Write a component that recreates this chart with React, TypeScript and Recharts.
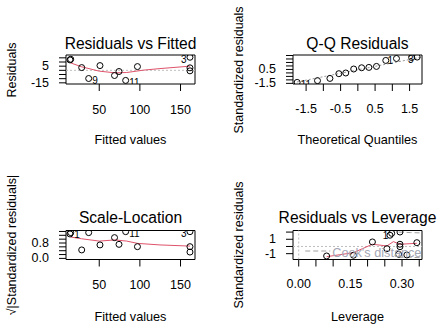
import React from 'react'
import {
  ScatterChart,
  Scatter,
  XAxis,
  YAxis,
  ReferenceLine,
  ReferenceArea,
} from 'recharts'

const FONT = '"Liberation Sans", Arial, Helvetica, sans-serif'
const RED = '#DF536B'

// Residuals vs Fitted
const fitted = [14.9, 14.0, 28.4, 37.0, 50.9, 68.8, 74.3, 82.5, 97.0, 161.6, 161.6, 161.6]
const residuals = [13.3, 12.5, 3.3, -9.8, 5.7, -6.2, -1.4, -12.1, 4.5, 15.7, 3.0, -0.6]
const rvfIds = ['', '', '', '9', '', '', '', '11', '', '3', '', '']
const rvfSmoothX = [14.9, 28.4, 50.1, 69.4, 83.8, 104.2, 124.7, 161.6]
const rvfSmoothY = [8.9, 4.2, -1.0, -3.0, -2.6, 0.2, 2.1, 5.0]
const fittedTicks = [50, 100, 150]
const rvfYTicks = [-15, -10, -5, 0, 5, 10, 15]
const rvfYShown = [-15, 5]

// Q-Q Residuals
const qqTheo = [-1.76, -1.17, -0.81, -0.55, -0.35, -0.12, 0.11, 0.32, 0.54, 0.81, 1.12, 1.56, 1.72]
const qqStd = [-1.36, -1.11, -0.79, -0.11, -0.01, 0.56, 0.74, 0.79, 0.93, 1.79, 2.07, 2.21, 2.27]
const qqIds = ['11', '', '', '', '', '', '', '', '', '', '1', '', '3']
const qqLineX = [-1.88, 1.86]
const qqLineY = [-1.41, 2.28]
const qqXTicks = [-1.5, -1, -0.5, 0, 0.5, 1, 1.5]
const qqXShown = [-1.5, -0.5, 0.5, 1.5]
const qqYTicks = [-1.5, -1, -0.5, 0, 0.5, 1, 1.5, 2, 2.5]
const qqYShown = [-1.5, 0.5]

// Scale-Location
const slValue = [1.34, 1.27, 0.44, 1.34, 0.7, 1.08, 0.73, 1.39, 0.61, 1.39, 0.61, 0.33]
const slIds = ['1', '', '', '', '', '', '', '11', '', '3', '', '']
const slSmoothX = [14.9, 28.4, 50.0, 69.4, 83.8, 97.3, 124.7, 161.6]
const slSmoothY = [1.11, 1.02, 0.9, 0.96, 0.9, 0.78, 0.7, 0.64]
const slYTicks = [0, 0.2, 0.4, 0.6, 0.8, 1.0, 1.2, 1.4]
const slYShown = [0, 0.8]

// Residuals vs Leverage
const leverage = [0.081, 0.159, 0.214, 0.256, 0.265, 0.27, 0.294, 0.294, 0.294, 0.29, 0.314, 0.343]
const levStd = [-1.32, -1.22, 0.63, -0.31, 1.56, 1.83, 2.01, 0.31, -0.03, -1.08, -1.18, 0.53]
const levIds = ['', '', '', '', '', '1', '', '', '', '', '', '']
const levSmoothX = [0.081, 0.159, 0.214, 0.256, 0.275, 0.294, 0.343]
const levSmoothY = [-1.42, -0.86, 0.31, 0.07, 0.67, 0.31, 0.44]
const cookH = [0.29, 0.325, 0.358]
const cookUpper = [2.0, 1.93, 1.88]
const cookLower = [-1.5, -1.52, -1.55]
const cookLevel = '0.5'
const levXTicks = [0, 0.05, 0.1, 0.15, 0.2, 0.25, 0.3, 0.35]
const levXShown = [0, 0.15, 0.3]
const levYTicks = [-1, 0, 1, 2]
const levYShown = [-1, 1]

const pts = (xs: number[], ys: number[], ids?: string[]) =>
  xs.map((x, i) => ({ x, y: ys[i], id: ids ? ids[i] : '' }))

const has = (list: number[], v: number) => list.some((s) => Math.abs(s - v) < 1e-9)

const ring = (mid: number) => (p: any) => {
  const id = p.payload?.id
  const left = p.payload?.x > mid
  return (
    <g>
      <circle cx={p.cx} cy={p.cy} r={3} fill="none" stroke="#000" strokeWidth={1} />
      {id ? (
        <text
          x={left ? p.cx - 3.5 : p.cx + 3.5}
          y={p.cy + 2}
          textAnchor={left ? 'end' : 'start'}
          dominantBaseline="central"
          fontSize={10}
          fontFamily={FONT}
          fill="#000"
        >
          {id}
        </text>
      ) : null}
    </g>
  )
}

const noDot = () => <g />

interface PanelProps {
  left: number
  top: number
  height: number
  plotTop: number
  plotLeft: number
  plotRight: number
  xAxisH: number
  xDomain: [number, number]
  yDomain: [number, number]
  xTicks: number[]
  yTicks: number[]
  xShown: number[]
  yShown: number[]
  xFmt: (v: number) => string
  yFmt: (v: number) => string
  tickLabelY: number
  title: string
  titleY: number
  xTitle: string
  xTitleY: number
  yTitle: string
  yTitleX: number
  children: React.ReactNode
}

function Panel(p: PanelProps) {
  const boxCx = p.left + (p.plotLeft + 222 - p.plotRight) / 2
  const boxCy = p.top + p.plotTop + (p.height - p.plotTop - p.xAxisH) / 2
  const text: React.CSSProperties = {
    position: 'absolute',
    whiteSpace: 'nowrap',
    lineHeight: 1,
    fontFamily: FONT,
    color: '#000',
  }
  return (
    <>
      <div style={{ position: 'absolute', left: p.left, top: p.top }}>
        <ScatterChart
          width={222}
          height={p.height}
          margin={{ top: p.plotTop, right: p.plotRight, bottom: 0, left: 0 }}
        >
          <XAxis
            type="number"
            dataKey="x"
            domain={p.xDomain}
            allowDataOverflow
            ticks={p.xTicks}
            interval={0}
            height={p.xAxisH}
            axisLine={false}
            stroke="#000"
            tickLine={{ stroke: '#000' }}
            tickSize={7}
            tick={(t: any) =>
              has(p.xShown, t.payload.value) ? (
                <text
                  x={t.x}
                  y={p.tickLabelY}
                  textAnchor="middle"
                  dominantBaseline="central"
                  fontSize={12.5}
                  fontFamily={FONT}
                  fill="#000"
                >
                  {p.xFmt(t.payload.value)}
                </text>
              ) : (
                <g />
              )
            }
          />
          <YAxis
            type="number"
            dataKey="y"
            domain={p.yDomain}
            allowDataOverflow
            ticks={p.yTicks}
            interval={0}
            width={p.plotLeft}
            axisLine={false}
            stroke="#000"
            tickLine={{ stroke: '#000' }}
            tickSize={7}
            tick={(t: any) =>
              has(p.yShown, t.payload.value) ? (
                <text
                  x={p.plotLeft - 17}
                  y={t.y}
                  textAnchor="end"
                  dominantBaseline="central"
                  fontSize={12.5}
                  fontFamily={FONT}
                  fill="#000"
                >
                  {p.yFmt(t.payload.value)}
                </text>
              ) : (
                <g />
              )
            }
          />
          <ReferenceArea
            x1={p.xDomain[0]}
            x2={p.xDomain[1]}
            y1={p.yDomain[0]}
            y2={p.yDomain[1]}
            fill="none"
            stroke="#000"
            strokeWidth={1}
          />
          {p.children}
        </ScatterChart>
      </div>
      <div style={{ ...text, left: boxCx, top: p.top + p.titleY, fontSize: 15.6, transform: 'translate(-50%,-50%)' }}>
        {p.title}
      </div>
      <div style={{ ...text, left: boxCx, top: p.top + p.xTitleY, fontSize: 12.7, transform: 'translate(-50%,-50%)' }}>
        {p.xTitle}
      </div>
      <div
        style={{
          ...text,
          left: p.left + p.yTitleX,
          top: boxCy,
          fontSize: 12.5,
          transform: 'translate(-50%,-50%) rotate(-90deg)',
        }}
      >
        {p.yTitle}
      </div>
    </>
  )
}

export default function App() {
  const rvfData = pts(fitted, residuals, rvfIds)
  const qqData = pts(qqTheo, qqStd, qqIds)
  const slData = pts(fitted, slValue, slIds)
  const levData = pts(leverage, levStd, levIds)
  const fitDomain: [number, number] = [9.1, 167.8]
  const levDomain: [number, number] = [-0.0166, 0.358]
  const n = cookH.length - 1

  return (
    <div style={{ position: 'absolute', left: 0, top: 0, width: 444, height: 331, background: '#fff' }}>
      <Panel
        left={0}
        top={0}
        height={165}
        plotTop={55}
        plotLeft={66}
        plotRight={27}
        xAxisH={81}
        xDomain={fitDomain}
        yDomain={[-16.4, 18.4]}
        xTicks={fittedTicks}
        yTicks={rvfYTicks}
        xShown={fittedTicks}
        yShown={rvfYShown}
        xFmt={(v) => String(v)}
        yFmt={(v) => String(v)}
        tickLabelY={109.5}
        title="Residuals vs Fitted"
        titleY={43.5}
        xTitle="Fitted values"
        xTitleY={140}
        yTitle="Residuals"
        yTitleX={11.7}
      >
        <ReferenceLine y={0} stroke="#BEBEBE" strokeDasharray="2 2" />
        <Scatter
          data={pts(rvfSmoothX, rvfSmoothY)}
          line={{ stroke: RED, strokeWidth: 1 }}
          shape={noDot}
          isAnimationActive={false}
        />
        <Scatter data={rvfData} shape={ring(88)} isAnimationActive={false} />
      </Panel>

      <Panel
        left={222}
        top={0}
        height={165}
        plotTop={55}
        plotLeft={71}
        plotRight={22}
        xAxisH={81}
        xDomain={[-1.88, 1.86]}
        yDomain={[-1.59, 2.57]}
        xTicks={qqXTicks}
        yTicks={qqYTicks}
        xShown={qqXShown}
        yShown={qqYShown}
        xFmt={(v) => String(v)}
        yFmt={(v) => String(v)}
        tickLabelY={109}
        title="Q-Q Residuals"
        titleY={43.5}
        xTitle="Theoretical Quantiles"
        xTitleY={140}
        yTitle="Standardized residuals"
        yTitleX={16.7}
      >
        <ReferenceLine
          segment={[
            { x: qqLineX[0], y: qqLineY[0] },
            { x: qqLineX[1], y: qqLineY[1] },
          ]}
          stroke="#999999"
          strokeDasharray="2 2"
        />
        <Scatter data={qqData} shape={ring(0)} isAnimationActive={false} />
      </Panel>

      <Panel
        left={0}
        top={165}
        height={166}
        plotTop={65.5}
        plotLeft={66}
        plotRight={27}
        xAxisH={71.5}
        xDomain={fitDomain}
        yDomain={[-0.057, 1.45]}
        xTicks={fittedTicks}
        yTicks={slYTicks}
        xShown={fittedTicks}
        yShown={slYShown}
        xFmt={(v) => String(v)}
        yFmt={(v) => v.toFixed(1)}
        tickLabelY={120}
        title="Scale-Location"
        titleY={53.3}
        xTitle="Fitted values"
        xTitleY={151.7}
        yTitle="√|Standardized residuals|"
        yTitleX={11.7}
      >
        <Scatter
          data={pts(slSmoothX, slSmoothY)}
          line={{ stroke: RED, strokeWidth: 1 }}
          shape={noDot}
          isAnimationActive={false}
        />
        <Scatter data={slData} shape={ring(88)} isAnimationActive={false} />
      </Panel>

      <Panel
        left={222}
        top={165}
        height={166}
        plotTop={65.5}
        plotLeft={71}
        plotRight={22}
        xAxisH={71.5}
        xDomain={levDomain}
        yDomain={[-1.81, 2.22]}
        xTicks={levXTicks}
        yTicks={levYTicks}
        xShown={levXShown}
        yShown={levYShown}
        xFmt={(v) => v.toFixed(2)}
        yFmt={(v) => String(v)}
        tickLabelY={119}
        title="Residuals vs Leverage"
        titleY={53.3}
        xTitle="Leverage"
        xTitleY={151.7}
        yTitle="Standardized residuals"
        yTitleX={16.7}
      >
        <ReferenceLine y={0} stroke="#BEBEBE" strokeDasharray="2 2" />
        <ReferenceLine x={0} stroke="#BEBEBE" strokeDasharray="2 2" />
        <Scatter
          data={pts(cookH, cookUpper)}
          line={{ stroke: '#A0A0A0', strokeWidth: 1, strokeDasharray: '5 3' }}
          shape={noDot}
          isAnimationActive={false}
        />
        <Scatter
          data={pts(cookH, cookLower)}
          line={{ stroke: '#A0A0A0', strokeWidth: 1, strokeDasharray: '5 3' }}
          shape={noDot}
          isAnimationActive={false}
        />
        <Scatter
          data={pts([cookH[n], cookH[n]], [cookUpper[n], cookLower[n]])}
          shape={(s: any) => (
            <text
              x={s.cx + 12.5}
              y={s.cy + 2}
              textAnchor="middle"
              dominantBaseline="central"
              fontSize={10.5}
              fontFamily={FONT}
              fill="#A0A0A0"
            >
              {cookLevel}
            </text>
          )}
          isAnimationActive={false}
        />
        <Scatter
          data={pts(levSmoothX, levSmoothY)}
          line={{ stroke: RED, strokeWidth: 1 }}
          shape={noDot}
          isAnimationActive={false}
        />
        <Scatter data={levData} shape={ring(0.17)} isAnimationActive={false} />
        <Scatter
          data={pts([0.019], [-0.63])}
          shape={(s: any) => (
            <g>
              <line x1={s.cx} y1={s.cy} x2={s.cx + 25} y2={s.cy} stroke="#A0A0A0" strokeDasharray="5 3" />
              <text
                x={s.cx + 27}
                y={s.cy + 1.5}
                dominantBaseline="central"
                fontSize={12.7}
                fontFamily={FONT}
                fill="#A3A6B4"
              >
                Cook's distance
              </text>
            </g>
          )}
          isAnimationActive={false}
        />
      </Panel>
    </div>
  )
}
